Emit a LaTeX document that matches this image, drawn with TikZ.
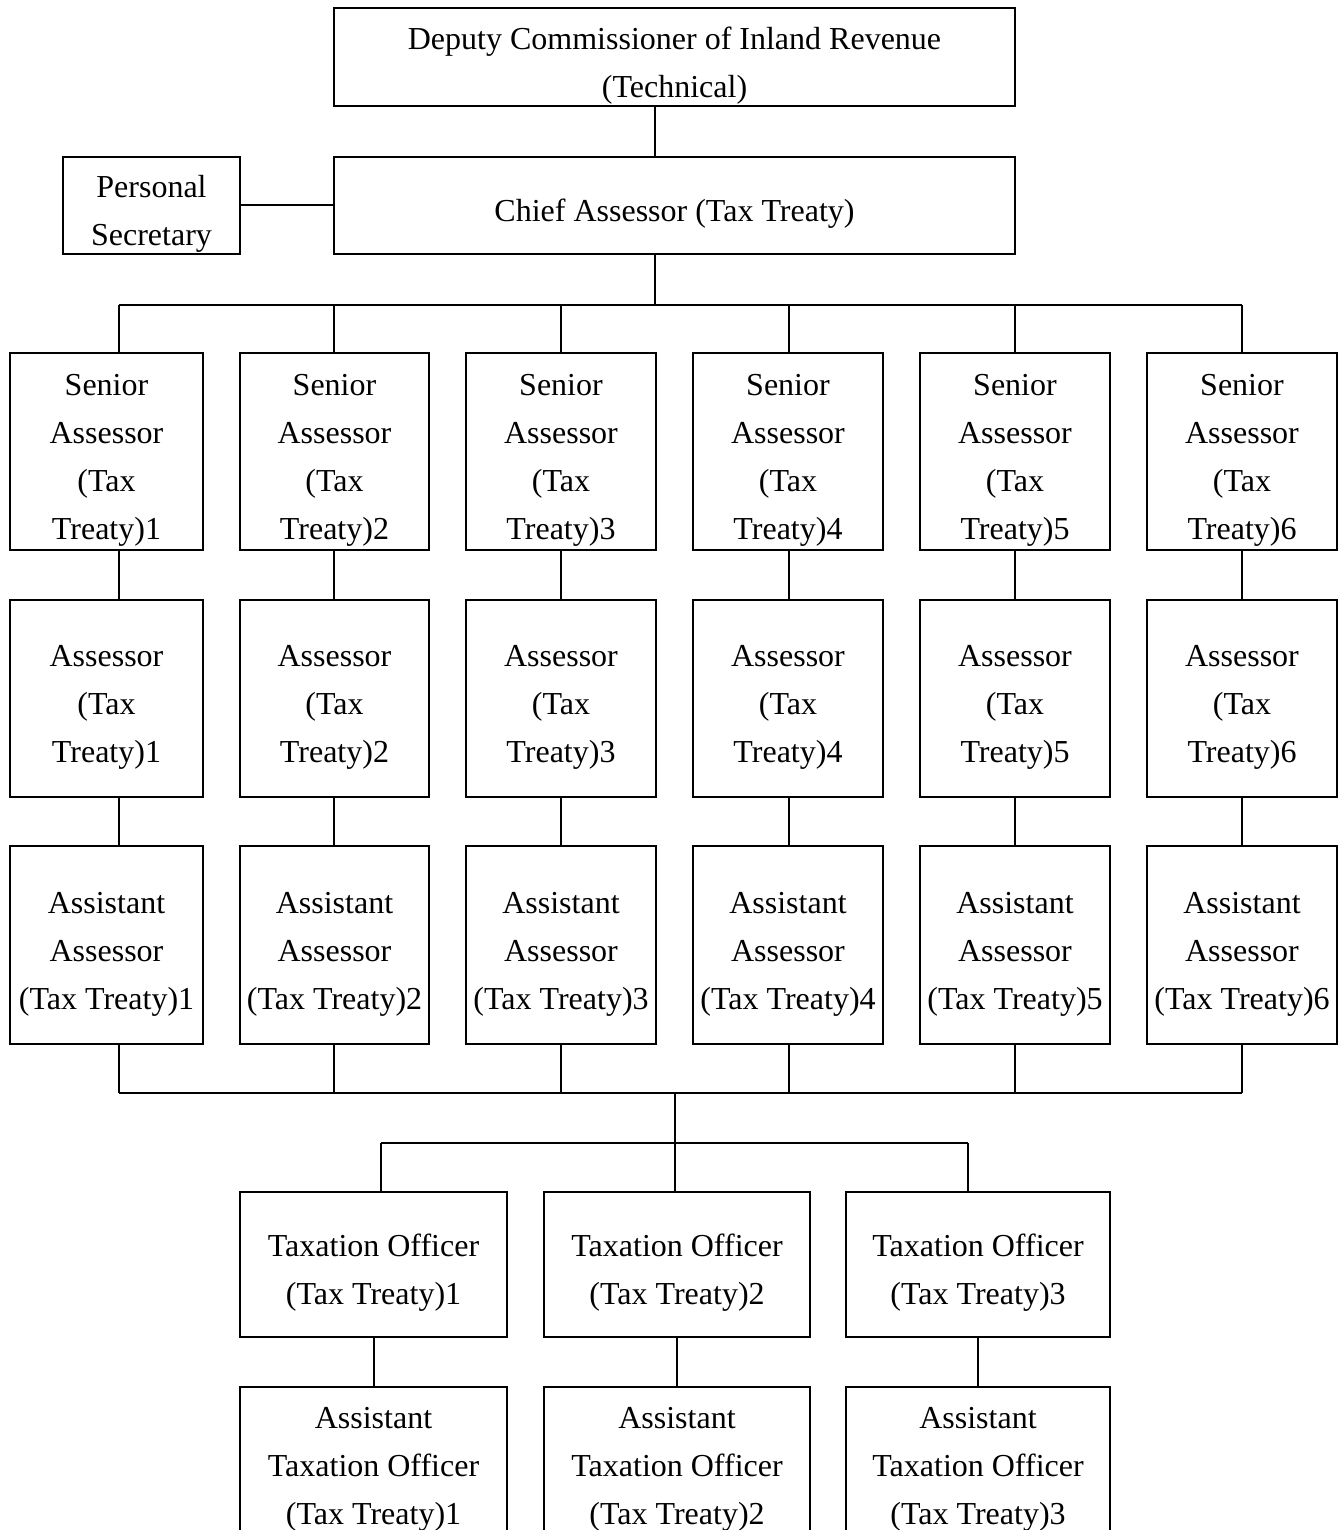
\documentclass[tikz,border=0pt]{standalone}
\usepackage{fontspec}
\setmainfont{Liberation Serif}
\newcommand\bx[6]{\node[box, minimum width={(#4-#2)*0.75pt}, minimum height={(#5-#3)*0.75pt}] (#1) at ({(#2+#4)/2},{(#3+#5)/2}) {\smash{\raisebox{-11.25pt}{\begin{tabular}{@{}c@{}}#6\end{tabular}}}};}
\begin{document}
\begin{tikzpicture}[x=0.75pt,y=-0.75pt,
  box/.style={draw, line width=2pt, inner sep=0pt, outer sep=0pt, font=\fontsize{24}{36}\selectfont},
  conn/.style={line width=1.5pt}]
\useasboundingbox (0,0) rectangle (1343,1530);
\clip (0,0) rectangle (1343,1530);
\bx{top}{334}{8}{1015}{106}{Deputy Commissioner of Inland Revenue\\(Technical)}
\bx{chief}{334}{157}{1015}{254}{Chief Assessor (Tax Treaty)}
\bx{ps}{63}{157}{240}{254}{Personal\\Secretary}
\coordinate (j0) at (655,305);
\coordinate (j1) at (675,1093);
\coordinate (j2) at (675,1143);
\coordinate (m1) at (381,0);
\coordinate (m3) at (968,0);
\foreach \i/\l/\r/\k in {1/10/203/119, 2/240/429/334, 3/466/656/561, 4/693/883/789, 5/920/1110/1015, 6/1147/1337/1242}{
  \coordinate (k\i) at (\k,0);
  \bx{sa\i}{\l}{353}{\r}{550}{Senior\\Assessor\\(Tax\\Treaty)\i}
  \bx{a\i}{\l}{600}{\r}{797}{Assessor\\(Tax\\Treaty)\i}
  \bx{aa\i}{\l}{846}{\r}{1044}{Assistant\\Assessor\\(Tax Treaty)\i}
}
\foreach \i/\l/\r in {1/240/507, 2/544/810, 3/846/1110}{
  \bx{to\i}{\l}{1192}{\r}{1337}{Taxation Officer\\(Tax Treaty)\i}
  \bx{ato\i}{\l}{1387}{\r}{1533}{Assistant\\Taxation Officer\\(Tax Treaty)\i}
}
% connectors
\draw[conn] (top.south -| j0) -- (chief.north -| j0);
\draw[conn] (ps.east) -- (chief.west);
\draw[conn] (chief.south -| j0) -- (j0);
\draw[conn] (k1 |- j0) -- (k6 |- j0);
\foreach \i in {1,...,6}{
  \draw[conn] (k\i |- j0) -- (sa\i.north -| k\i);
  \draw[conn] (sa\i.south -| k\i) -- (a\i.north -| k\i);
  \draw[conn] (a\i.south -| k\i) -- (aa\i.north -| k\i);
  \draw[conn] (aa\i.south -| k\i) -- (k\i |- j1);
}
\draw[conn] (k1 |- j1) -- (k6 |- j1);
\draw[conn] (j1) -- (j2);
\draw[conn] (m1 |- j2) -- (m3 |- j2);
\draw[conn] (m1 |- j2) -- (to1.north -| m1);
\draw[conn] (j2) -- (to2.north -| j2);
\draw[conn] (m3 |- j2) -- (to3.north -| m3);
\foreach \i in {1,2,3}{
  \draw[conn] (to\i.south) -- (ato\i.north);
}
\end{tikzpicture}
\end{document}
